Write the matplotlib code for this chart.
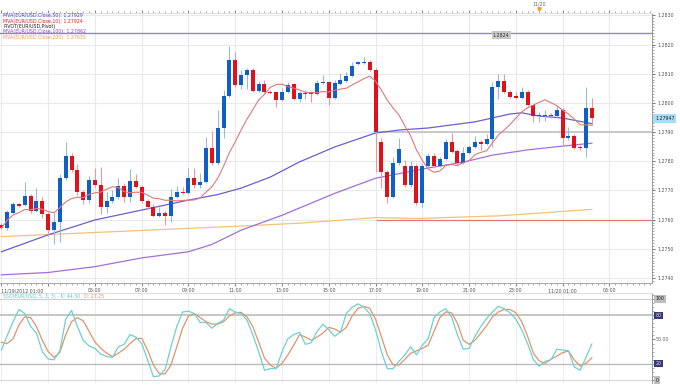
import matplotlib
matplotlib.use('Agg')
import matplotlib.pyplot as plt
import numpy as np
import pandas as pd
from matplotlib.ticker import MultipleLocator

plt.rcParams['font.family'] = ['DejaVu Sans']

# ---------------- data (15-minute EUR/USD candles, 11/19/2012 01:00 -> 11/20 02:15) -------------
opens = [1.27581,1.27571,1.27622,1.27653,1.27649,1.27680,1.27629,1.27663,1.27618,1.27564,
         1.27591,1.27743,1.27818,1.27770,1.27694,1.27667,1.27736,1.27719,1.27642,1.27663,
         1.27677,1.27715,1.27677,1.27732,1.27712,1.27663,1.27642,1.27612,1.27622,1.27612,
         1.27677,1.27694,1.27691,1.27743,1.27719,1.27729,1.27845,1.27794,1.27914,1.28024,
         1.28147,1.28061,1.28096,1.28113,1.28041,1.28065,1.28037,1.28037,1.28010,1.28037,
         1.28065,1.28013,1.28034,1.28034,1.28031,1.28068,1.28072,1.28017,1.28065,1.28075,
         1.28092,1.28133,1.28137,1.28140,1.28113,1.27866,1.27763,1.27677,1.27794,1.27784,
         1.27719,1.27784,1.27656,1.27784,1.27818,1.27784,1.27808,1.27866,1.27835,1.27794,
         1.27828,1.27849,1.27866,1.27859,1.27876,1.28054,1.28075,1.28037,1.28024,1.28017,
         1.28037,1.27993,1.27955,1.27955,1.27959,1.27955,1.27976,1.27880,1.27887,1.27849,
         1.27845,1.27983]
closes = [1.27571,1.27625,1.27653,1.27646,1.27680,1.27629,1.27663,1.27618,1.27564,1.27591,
          1.27743,1.27818,1.27770,1.27694,1.27667,1.27736,1.27719,1.27642,1.27663,1.27677,
          1.27715,1.27677,1.27732,1.27712,1.27663,1.27642,1.27612,1.27622,1.27612,1.27677,
          1.27694,1.27691,1.27743,1.27719,1.27729,1.27845,1.27794,1.27914,1.28024,1.28147,
          1.28061,1.28096,1.28113,1.28041,1.28065,1.28037,1.28034,1.28010,1.28037,1.28061,
          1.28013,1.28034,1.28031,1.28031,1.28068,1.28072,1.28017,1.28068,1.28078,1.28092,
          1.28126,1.28140,1.28140,1.28113,1.27900,1.27763,1.27677,1.27794,1.27842,1.27719,
          1.27784,1.27656,1.27784,1.27818,1.27784,1.27808,1.27866,1.27832,1.27794,1.27828,
          1.27849,1.27866,1.27859,1.27876,1.28054,1.28075,1.28037,1.28020,1.28017,1.28037,
          1.27993,1.27955,1.27959,1.27959,1.27955,1.27976,1.27880,1.27887,1.27845,1.27845,
          1.27983,1.27947]
highs = [1.27588,1.27632,1.27660,1.27656,1.27729,1.27687,1.27708,1.27677,1.27625,1.27625,
         1.27756,1.27866,1.27828,1.27791,1.27701,1.27749,1.27777,1.27780,1.27694,1.27701,
         1.27743,1.27725,1.27773,1.27756,1.27719,1.27670,1.27653,1.27642,1.27629,1.27705,
         1.27715,1.27712,1.27777,1.27777,1.27760,1.27883,1.27904,1.27976,1.28044,1.28195,
         1.28174,1.28113,1.28120,1.28120,1.28075,1.28078,1.28044,1.28041,1.28051,1.28072,
         1.28068,1.28041,1.28044,1.28041,1.28078,1.28096,1.28075,1.28078,1.28102,1.28106,
         1.28140,1.28144,1.28157,1.28147,1.28120,1.27880,1.27770,1.27815,1.27880,1.27804,
         1.27801,1.27791,1.27794,1.27828,1.27828,1.27815,1.27876,1.27897,1.27842,1.27849,
         1.27856,1.27887,1.27873,1.27893,1.28072,1.28099,1.28099,1.28044,1.28037,1.28054,
         1.28044,1.27996,1.27969,1.27976,1.27966,1.27989,1.27983,1.27918,1.27893,1.27856,
         1.28054,1.28017]
lows = [1.27567,1.27564,1.27618,1.27642,1.27646,1.27622,1.27625,1.27605,1.27543,1.27516,
        1.27523,1.27736,1.27763,1.27684,1.27653,1.27656,1.27712,1.27618,1.27622,1.27656,
        1.27670,1.27660,1.27660,1.27708,1.27656,1.27635,1.27608,1.27608,1.27581,1.27591,
        1.27673,1.27687,1.27687,1.27708,1.27708,1.27725,1.27787,1.27787,1.27880,1.28020,
        1.28054,1.28048,1.28048,1.28037,1.28037,1.28034,1.28031,1.27986,1.28007,1.28034,
        1.28010,1.28003,1.28013,1.28003,1.28027,1.28065,1.27993,1.28013,1.28061,1.28072,
        1.28089,1.28130,1.28133,1.28109,1.27763,1.27708,1.27656,1.27673,1.27787,1.27712,
        1.27712,1.27649,1.27642,1.27780,1.27777,1.27780,1.27804,1.27828,1.27787,1.27791,
        1.27825,1.27845,1.27839,1.27856,1.27849,1.28013,1.28034,1.28017,1.28013,1.28013,
        1.27989,1.27935,1.27935,1.27938,1.27948,1.27952,1.27856,1.27873,1.27842,1.27839,
        1.27815,1.27924]

# longer moving averages (candle index, value)
ma50_idx = [0, 8, 16, 24, 32, 37, 41, 46, 51, 57, 64, 68, 73, 81, 87, 89, 92, 96, 101]
ma50_vals = [1.27490, 1.27548, 1.27599, 1.27633, 1.27667, 1.27686, 1.27708, 1.27746, 1.27798,
             1.27849, 1.27897, 1.27907, 1.27914, 1.27935, 1.27962, 1.27966, 1.27955, 1.27948,
             1.27929]
ma100_idx = [0, 8, 16, 24, 32, 36, 41, 48, 57, 64, 73, 79, 84, 90, 96, 101]
ma100_vals = [1.27411, 1.27419, 1.27439, 1.27469, 1.27490, 1.27515, 1.27564, 1.27615, 1.27690,
              1.27742, 1.27777, 1.27797, 1.27821, 1.27839, 1.27852, 1.27862]
ma200_idx = [0, 41, 51, 64, 71, 85, 101]
ma200_vals = [1.27542, 1.27578, 1.27588, 1.27607, 1.27604, 1.27613, 1.27635]

pivot_r1 = 1.2824
pivot_p = 1.2790
pivot_s1 = 1.2760
session_start = 64          # 17:00 candle

# slow stochastic (5,3,3)
stoch_k = [37,55,72,87,82,66,58,35,26,25, 36,75,86,66,49,42,39,32,29,28,
           41,44,56,53,45,25,4,5,13,41, 66,84,85,82,71,71,64,70,74,88,
           84,82,74,56,35,12,14,14,35,51, 56,59,44,46,60,69,62,54,59,82,
           90,94,90,82,62,35,14,14,23,31, 41,31,43,51,77,84,88,78,56,38,
           39,54,66,76,84,91,88,83,75,62, 45,25,17,23,25,38,37,36,16,12,
           28,44.5]
stoch_d = [46.5,45,51,68,78,77,66,49,35,28, 34,56,72,77,73,60,47,39,33,29,
           33,38,45,51,51.5,37,18.5,8,7.5,18.5, 41,64,79,82,77,72,69,69,72,79,
           83,83.5,78,66,47,27,18.5,14.4,20.6,31, 43,56,53,49,53,58,65,63,59,65,
           79,88.5,91,88.5,75,53.5,31,18.5,18.5,25.5, 33,36,39,43,60,77,84,83,70,49,
           44,49,58,67,78,84,87,87,83,72, 54,33,23.5,20.6,25.5,29.6,33.7,35.8,24.7,17.3,
           20.6,27.25]

time_tick_idx = [0, 8, 16, 24, 32, 40, 48, 56, 64, 72, 80, 88, 96, 104]
time_tick_labels = ['11/19/2012 01:00', '', '05:00', '07:00', '09:00', '11:00', '13:00',
                    '15:00', '17:00', '19:00', '21:00', '23:00', '11/20 01:00', '03:00']
price_ticks = [1.2740, 1.2750, 1.2760, 1.2770, 1.2780, 1.2790, 1.2800, 1.2810, 1.2820, 1.2830]

# ---------------- figure -------------
W, H = 680, 385
fig = plt.figure(figsize=(W / 100, H / 100), dpi=100)
fig.patch.set_facecolor('white')


def rect(x0, y0, x1, y1):
    return [x0 / W, 1 - y1 / H, (x1 - x0) / W, (y1 - y0) / H]


ax = fig.add_axes(rect(0, 12.7, 651.5, 283))
ax2 = fig.add_axes(rect(0, 293, 651.5, 383))

FS = 3.4
BLUE, BLUE_W = '#0f5fc6', '#93bcd9'
RED, RED_W = '#e0101c', '#e69a9a'

o = np.array(opens); c = np.array(closes)
hi = np.array(highs); lo = np.array(lows)
xi = np.arange(len(c))
up = c >= o
xmax = 111.2
ax.set_xlim(-0.24, xmax)
ax.set_ylim(1.27383, 1.28309)

# grid
ax.set_yticks(price_ticks)
ax.set_xticks(time_tick_idx)
ax.grid(True, color='#e9e9e9', lw=0.8, zorder=0)
ax.set_axisbelow(True)

# pivot lines
ax.axhline(pivot_r1, color='#8d89c9', lw=1.0, zorder=1)
ax.hlines(pivot_p, session_start, xmax, color='#c8c8c8', lw=1.4, zorder=1)
ax.hlines(pivot_s1, session_start, xmax, color='#e07a7a', lw=0.9, zorder=1)
ax.annotate('1.2824', xy=(85.5, pivot_r1), xytext=(0, -1.6), textcoords='offset points',
            ha='center', va='center', fontsize=FS, color='#333333', zorder=8,
            bbox=dict(boxstyle='square,pad=0.25', fc='#c8c8c8', ec='none'))

# moving averages
ax.plot(ma200_idx, ma200_vals, color='#f2c27e', lw=0.9, zorder=2)
ax.plot(ma100_idx, ma100_vals, color='#a56fd8', lw=0.9, zorder=2)
ax.plot(ma50_idx, ma50_vals, color='#6a5fd4', lw=0.9, zorder=2)
ma10 = pd.Series(c).rolling(10, min_periods=1).mean()
ax.plot(xi, ma10, color='#e07a7a', lw=0.8, zorder=6)

# candles
ax.vlines(xi, lo, hi, colors=np.where(up, BLUE_W, RED_W), lw=0.8, zorder=3)
ax.bar(xi, np.maximum(np.abs(c - o), 0.00003), bottom=np.minimum(o, c), width=0.68,
       color=np.where(up, BLUE, RED), lw=0, zorder=4)

# axes styling
ax.yaxis.tick_right()
ax.set_yticklabels(['%.4f' % v for v in price_ticks])
ax.yaxis.set_minor_locator(MultipleLocator(0.0001))
ax.tick_params(axis='y', which='major', labelsize=FS, length=2.5, pad=2, colors='#777777',
               labelcolor='#555555')
ax.tick_params(axis='y', which='minor', length=1.2, color='#999999')
ax.set_xticklabels(time_tick_labels)
ax.xaxis.set_minor_locator(MultipleLocator(1))
ax.tick_params(axis='x', which='major', labelsize=FS, length=2.5, pad=1.2, colors='#888888',
               labelcolor='#555555', top=True)
ax.tick_params(axis='x', which='minor', length=1.5, color='#999999', top=True)
ax.get_xticklabels()[0].set_ha('left')
ax.spines['left'].set_visible(False)
ax.spines['right'].set_color('#999999')
ax.spines['bottom'].set_color('#aaaaaa')
ax.spines['top'].set_color('#dddddd')
for sp in ax.spines.values():
    sp.set_linewidth(0.7)

# current price tag
ax.annotate('1.27947', xy=(1.0, closes[-1]), xycoords=('axes fraction', 'data'),
            xytext=(2.5, 0), textcoords='offset points', ha='left', va='center',
            fontsize=FS, color='#222222', annotation_clip=False,
            bbox=dict(boxstyle='square,pad=0.35', fc='#a9dcf6', ec='none'))

# date marker on top
trx = ax.get_xaxis_transform()
ax.text(92, 1.033, '11/20', transform=trx, ha='center', va='center', fontsize=FS,
        color='#666666', clip_on=False)
ax.plot([92], [1.012], marker='v', ms=2.5, color='#f0a020', transform=trx, clip_on=False)

# legend texts
leg = [('MVA(EUR/USD.Close,50): 1.27929', '#4a3fcf'),
       ('MVA(EUR/USD.Close,10): 1.27924', '#e02020'),
       ('PIVOT(EUR/USD,Pivot)', '#222222'),
       ('MVA(EUR/USD.Close,100): 1.27862', '#9040c8'),
       ('MVA(EUR/USD.Close,200): 1.27635', '#f0a040')]
for k, (t, col) in enumerate(leg):
    fig.text(3 / W, 1 - (15.5 + 5.5 * k) / H, t, fontsize=FS, color=col, va='center', ha='left')

# ---------------- stochastic panel -------------
ax2.set_xlim(-0.24, xmax)
ax2.set_ylim(-3.7, 107.4)
ax2.set_xticks(time_tick_idx)
ax2.grid(True, axis='x', color='#ededed', lw=0.8)
ax2.set_axisbelow(True)
ax2.axhline(100, color='#cfcfcf', lw=0.8)
ax2.axhline(80, color='#c6c6c6', lw=1.4)
ax2.axhline(20, color='#bdbdbd', lw=1.0)
ax2.axhline(0, color='#d5d5d5', lw=0.8)
ax2.plot(xi, stoch_d, color='#e0946c', lw=0.9)
ax2.plot(xi, stoch_k, color='#6fd0d0', lw=0.9)
ax2.set_xticklabels([])
ax2.tick_params(axis='x', length=0)
ax2.yaxis.tick_right()
ax2.set_yticks([0, 50, 100])
ax2.set_yticklabels([])
ax2.yaxis.set_minor_locator(MultipleLocator(5))
ax2.tick_params(axis='y', which='major', length=2.5, colors='#888888')
ax2.tick_params(axis='y', which='minor', length=1.2, color='#999999')
ax2.spines['left'].set_visible(False)
ax2.spines['bottom'].set_visible(False)
ax2.spines['top'].set_color('#dddddd')
ax2.spines['right'].set_color('#999999')
for sp in ax2.spines.values():
    sp.set_linewidth(0.7)
for val, txt, fc, tc in [(100, '100', '#bdbdbd', '#222222'), (80, '80', '#3a3a78', '#dddddd'),
                         (50, '50.00', 'none', '#666666'), (20, '20', '#3a3a78', '#dddddd'),
                         (0, '0', '#bdbdbd', '#222222')]:
    ax2.annotate(txt, xy=(1.0, val), xycoords=('axes fraction', 'data'), xytext=(3, 0),
                 textcoords='offset points', ha='left', va='center', fontsize=FS, color=tc,
                 annotation_clip=False,
                 bbox=dict(boxstyle='square,pad=0.25', fc=fc, ec='none'))
fig.text(3 / W, 1 - 296.5 / H, 'SSO(EUR/USD, 5, 3, 3) - K: 44.50', fontsize=FS,
         color='#5cc8c8', va='center', ha='left')
fig.text(84 / W, 1 - 296.5 / H, 'D: 27.25', fontsize=FS, color='#e0946c', va='center', ha='left')

fig.savefig('out.png', dpi=100, facecolor='white')
